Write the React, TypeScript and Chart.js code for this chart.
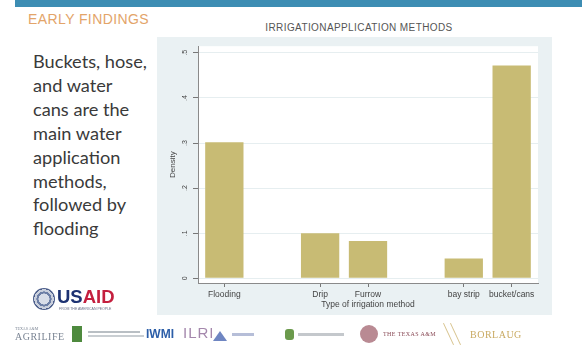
import React, { useEffect, useRef } from 'react';
import { Chart, registerables } from 'chart.js';

Chart.register(...registerables);

// Irrigation application methods: share of respondents (density) by method code
const methods = ['Flooding', 'Drip', 'Furrow', 'bay strip', 'bucket/cans'];
const methodCodes = [1, 3, 4, 6, 7];
const density = [0.302, 0.1, 0.083, 0.044, 0.472];
const densityTicks = [0, 0.1, 0.2, 0.3, 0.4, 0.5];

const summaryLines = [
  'Buckets, hose,',
  'and water',
  'cans are the',
  'main water',
  'application',
  'methods,',
  'followed by',
  'flooding',
];

const axisFont = 'Liberation Sans, Arial, sans-serif';

// Paints the light graph region and the white plot region behind the bars
const panelPlugin = {
  id: 'panel',
  beforeDraw(chart: any) {
    const { ctx, chartArea: a, width, height } = chart;
    ctx.save();
    ctx.fillStyle = '#eaf1f3';
    ctx.fillRect(0, 0, width, height);
    ctx.fillStyle = '#ffffff';
    ctx.fillRect(a.left, a.top, a.right - a.left, a.bottom - a.top);
    ctx.restore();
  },
};

function DensityChart() {
  const ref = useRef<HTMLCanvasElement | null>(null);

  useEffect(() => {
    if (!ref.current) return;
    const chart = new Chart(ref.current, {
      type: 'bar',
      data: {
        datasets: [
          {
            data: methodCodes.map((x, i) => ({ x, y: density[i] })),
            backgroundColor: '#c8bb74',
            borderWidth: 0,
            barPercentage: 1,
            categoryPercentage: 0.8,
          },
        ],
      },
      options: {
        animation: false,
        responsive: false,
        devicePixelRatio: 1,
        layout: { padding: { left: 0, right: 14, top: 8, bottom: 0 } },
        plugins: {
          legend: { display: false },
          tooltip: { enabled: false },
        },
        scales: {
          x: {
            type: 'linear',
            offset: false,
            min: 0.45,
            max: 7.55,
            afterBuildTicks: (s: any) => {
              s.ticks = methodCodes.map((v) => ({ value: v }));
            },
            afterFit: (s: any) => {
              s.height = 32;
            },
            grid: { offset: false, drawOnChartArea: false, drawTicks: true, tickLength: 4, tickColor: '#777' },
            border: { display: true, color: '#8a8a8a' },
            ticks: {
              autoSkip: false,
              minRotation: 0,
              maxRotation: 0,
              padding: 3,
              color: '#444',
              font: { family: axisFont, size: 8.5 },
              callback: (v: any) => methods[methodCodes.indexOf(Number(v))] ?? '',
            },
            title: {
              display: true,
              text: 'Type of irrigation method',
              color: '#444',
              font: { family: axisFont, size: 8.5 },
              padding: { top: 0, bottom: 5 },
            },
          },
          y: {
            min: -0.0104,
            max: 0.5148,
            afterBuildTicks: (s: any) => {
              s.ticks = densityTicks.map((v) => ({ value: v }));
            },
            afterFit: (s: any) => {
              s.width = 41;
            },
            grid: { color: '#e6eef0', drawTicks: true, tickLength: 5, tickColor: '#777' },
            border: { display: true, color: '#8a8a8a' },
            ticks: {
              minRotation: 90,
              maxRotation: 90,
              crossAlign: 'center',
              padding: 5,
              color: '#444',
              font: { family: axisFont, size: 7 },
              callback: (v: any) => (Number(v) === 0 ? '0' : Number(v).toFixed(1).replace(/^0/, '')),
            },
            title: {
              display: true,
              text: 'Density',
              color: '#444',
              font: { family: axisFont, size: 8 },
              padding: { top: 11, bottom: 0 },
            },
          },
        },
      } as any,
      plugins: [panelPlugin],
    });
    return () => chart.destroy();
  }, []);

  return <canvas ref={ref} width={395} height={278} style={{ display: 'block' }} />;
}

const abs = (s: React.CSSProperties): React.CSSProperties => ({ position: 'absolute', ...s });

export default function App() {
  return (
    <div
      style={{
        position: 'fixed',
        left: 0,
        top: 0,
        width: 582,
        height: 349,
        background: '#ffffff',
        overflow: 'hidden',
        fontFamily: 'Lato, sans-serif',
      }}
    >
      {/* header band */}
      <div style={abs({ left: 15, top: 0, width: 567, height: 7, background: '#3d8db3' })} />
      <div
        style={abs({
          left: 28,
          top: 11,
          fontFamily: axisFont,
          fontSize: 14,
          color: '#e3a469',
          letterSpacing: 0.4,
          lineHeight: '16px',
          whiteSpace: 'nowrap',
        })}
      >
        EARLY FINDINGS
      </div>

      {/* chart title */}
      <div
        style={abs({
          left: 200,
          width: 318,
          top: 22,
          textAlign: 'center',
          fontFamily: axisFont,
          fontSize: 10,
          color: '#555',
          letterSpacing: 0.4,
          lineHeight: '11px',
          whiteSpace: 'nowrap',
        })}
      >
        IRRIGATIONAPPLICATION METHODS
      </div>

      {/* chart */}
      <div style={abs({ left: 157, top: 37, width: 395, height: 278 })}>
        <DensityChart />
      </div>

      {/* summary text */}
      <div
        style={abs({
          left: 33,
          top: 50,
          fontSize: 18.2,
          lineHeight: '23.9px',
          color: '#3a3a3a',
          whiteSpace: 'nowrap',
        })}
      >
        {summaryLines.map((l) => (
          <div key={l}>{l}</div>
        ))}
      </div>

      {/* USAID mark */}
      <div
        style={abs({
          left: 33,
          top: 288,
          width: 22,
          height: 22,
          borderRadius: '50%',
          background: 'radial-gradient(circle, #d8dde8 0 35%, #6d7fa6 36% 48%, #c9cfdc 49% 62%, #4b5d8a 63% 100%)',
        })}
      />
      <div
        style={abs({
          left: 57,
          top: 287,
          fontFamily: axisFont,
          fontWeight: 'bold',
          fontSize: 18.5,
          lineHeight: '20px',
          whiteSpace: 'nowrap',
        })}
      >
        <span style={{ color: '#1d3272' }}>US</span>
        <span style={{ color: '#c41f3e' }}>AID</span>
      </div>
      <div
        style={abs({
          left: 59,
          top: 307,
          fontFamily: axisFont,
          fontSize: 3.5,
          color: '#6a6f86',
          whiteSpace: 'nowrap',
        })}
      >
        FROM THE AMERICAN PEOPLE
      </div>

      {/* partner logos */}
      <div style={abs({ left: 15, top: 326, fontFamily: 'Liberation Serif, serif', fontSize: 4, color: '#7b8594' })}>
        TEXAS A&amp;M
      </div>
      <div
        style={abs({
          left: 15,
          top: 331,
          fontFamily: 'Liberation Serif, serif',
          fontSize: 10,
          color: '#7b8594',
          letterSpacing: 0.5,
          whiteSpace: 'nowrap',
        })}
      >
        AGRILIFE
      </div>
      <div style={abs({ left: 72, top: 326, width: 10, height: 16, background: '#4e8a3e' })} />
      <div style={abs({ left: 88, top: 331, width: 52, height: 2, background: '#b9bfc4' })} />
      <div style={abs({ left: 88, top: 335, width: 56, height: 2, background: '#c9ced2' })} />
      <div
        style={abs({
          left: 146,
          top: 327,
          fontFamily: axisFont,
          fontWeight: 'bold',
          fontSize: 12,
          color: '#2c5ea8',
          whiteSpace: 'nowrap',
        })}
      >
        IWMI
      </div>
      <div
        style={abs({
          left: 183,
          top: 324,
          fontFamily: axisFont,
          fontSize: 15,
          color: '#a487ac',
          letterSpacing: 1,
          whiteSpace: 'nowrap',
        })}
      >
        ILRI
      </div>
      <div
        style={abs({
          left: 213,
          top: 331,
          width: 0,
          height: 0,
          borderLeft: '7px solid transparent',
          borderRight: '7px solid transparent',
          borderBottom: '10px solid #6f86c2',
        })}
      />
      <div style={abs({ left: 232, top: 333, width: 22, height: 3, background: '#b6bed8' })} />
      <div style={abs({ left: 285, top: 329, width: 9, height: 11, borderRadius: 3, background: '#6b9a4c' })} />
      <div style={abs({ left: 298, top: 333, width: 46, height: 3, background: '#c4c8cc' })} />
      <div style={abs({ left: 360, top: 325, width: 18, height: 18, borderRadius: '50%', background: '#b98a93' })} />
      <div
        style={abs({
          left: 383,
          top: 331,
          fontFamily: 'Liberation Serif, serif',
          fontSize: 6,
          color: '#8a4b57',
          letterSpacing: 0.4,
          whiteSpace: 'nowrap',
        })}
      >
        THE TEXAS A&amp;M
      </div>
      <div
        style={abs({
          left: 470,
          top: 329,
          fontFamily: 'Liberation Serif, serif',
          fontSize: 10,
          color: '#c9aa62',
          letterSpacing: 0.5,
          whiteSpace: 'nowrap',
        })}
      >
        BORLAUG
      </div>
      <div style={abs({ left: 448, top: 322, width: 1, height: 24, background: '#d8c48f', transform: 'rotate(-25deg)' })} />
      <div style={abs({ left: 455, top: 322, width: 1, height: 24, background: '#d8c48f', transform: 'rotate(-25deg)' })} />
    </div>
  );
}
